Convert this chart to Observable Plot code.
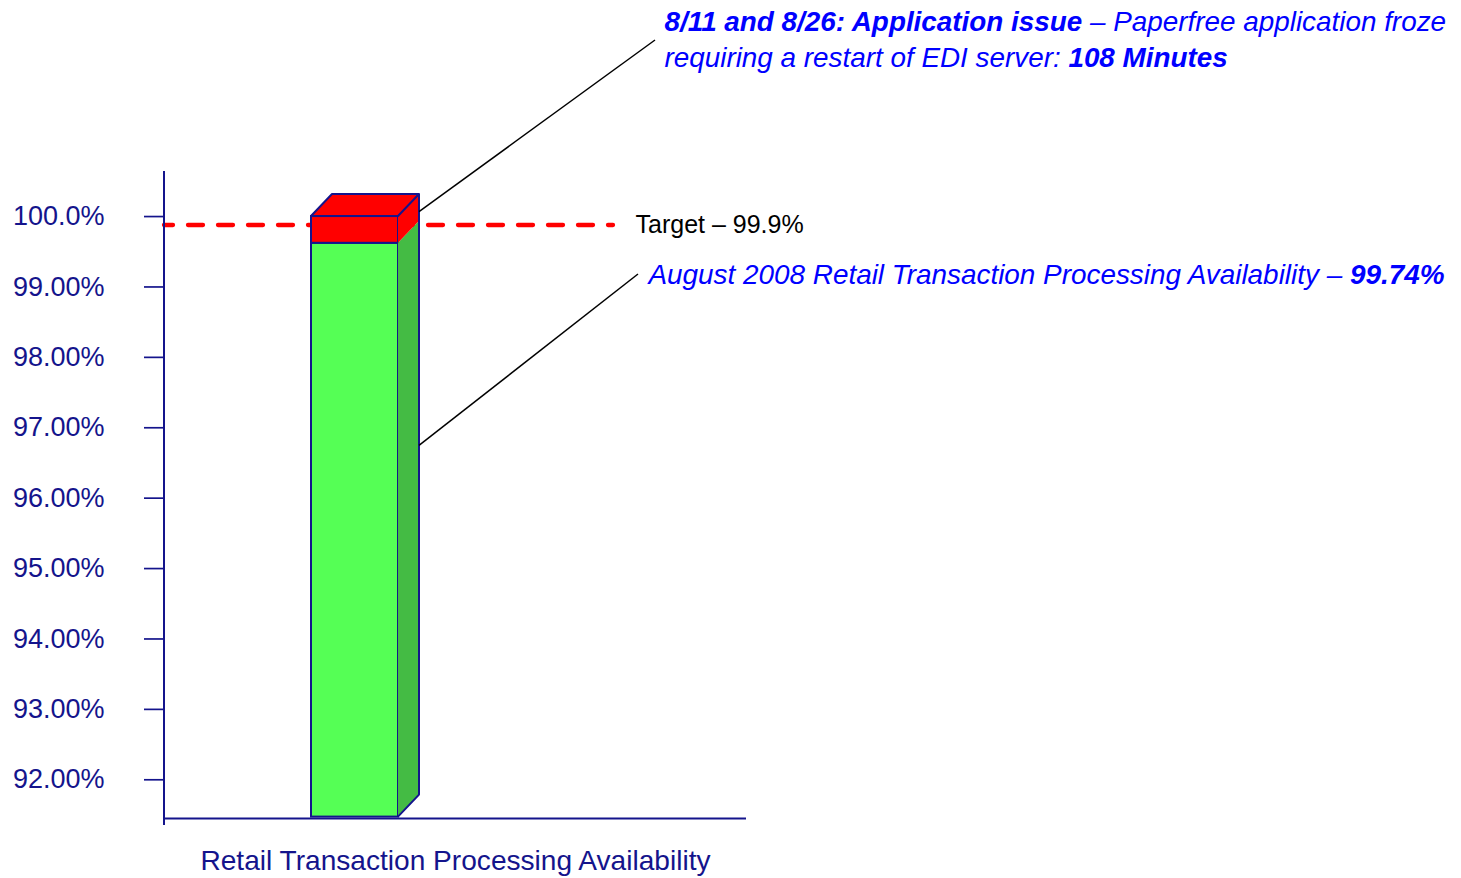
<!DOCTYPE html>
<html>
<head>
<meta charset="utf-8">
<script src="https://cdn.jsdelivr.net/npm/d3@7"></script>
<script src="https://cdn.jsdelivr.net/npm/@observablehq/plot@0.6"></script>
<style>
html, body { margin: 0; padding: 0; background: #fff; }
#chart svg { display: block; }
g[aria-label^="y-axis"] line, g[aria-label^="y-axis"] path { stroke-width: 1.7px; }
</style>
</head>
<body>
<div id="chart"></div>
<script>
// ---------- data ----------
const categories = ["Retail Transaction Processing Availability"];
const barBase = [91.47];          // bottom of the bar as drawn
const availability = [99.62];     // top of the green segment as drawn
const shortfallTop = [100.0];     // top of the red segment
const target = [99.88];           // dashed target line
const yDomain = [91.45, 100.64];
const yTicks = [92, 93, 94, 95, 96, 97, 98, 99, 100];
const yTickLabels = ["92.00%", "93.00%", "94.00%", "95.00%", "96.00%", "97.00%", "98.00%", "99.00%", "100.0%"];
const targetLabel = ["Target – 99.9%"];
const issueLine1 = [{text: "8/11 and 8/26: Application issue", bold: true}, {text: " – Paperfree application froze", bold: false}];
const issueLine2 = [{text: "requiring a restart of EDI server: ", bold: false}, {text: "108 Minutes", bold: true}];
const availLine = [{text: "August 2008 Retail Transaction Processing Availability – ", bold: false}, {text: "99.74%", bold: true}];
const leaderValues = [99.75, 96.43];   // where the two leader lines touch the bar's side

// ---------- styles / layout ----------
const navy = "#14148c";
const blue = "#0000ff";
const colors = {green: "#55ff55", greenSide: "#44bb44", red: "#ff0000"};
const depth = {dx: 21, dy: 22};
const W = 1461, H = 878;
const M = {top: 171, right: 715, bottom: 60, left: 164};
const font = "'Liberation Sans', Arial, Helvetica, sans-serif";
// annotation anchors relative to the frame's top-left corner (pixels)
const ann = {
  line1: {dx: 500, dy: -141},
  line2: {dx: 500, dy: -105},
  avail: {dx: 484, dy: 112},
  leader1End: {dx: 491, dy: -131},
  leader2End: {dx: 474, dy: 103}
};

const joinSegs = segs => segs.map(s => s.text).join("");
const segments = [
  {y1: barBase[0], y2: availability[0], fill: colors.green, cat: categories[0]},
  {y1: availability[0], y2: shortfallTop[0], fill: colors.red, cat: categories[0]}
];

function box3d(index, scales, values, dimensions) {
  const x = scales.x, y = scales.y;
  const bw = x.bandwidth();
  const {marginLeft, marginTop, height, marginBottom} = dimensions;
  const g = d3.create("svg:g");
  const poly = pts => pts.map(p => p.join(",")).join(" ");
  const {dx, dy} = depth;
  categories.forEach((c, i) => {
    const xl = x(c), xr = xl + bw;
    const yT = y(shortfallTop[i]), yG = y(availability[i]), yB = y(barBase[i]);
    g.append("polygon").attr("points", poly([[xr, yG], [xr + dx, yG - dy], [xr + dx, yB - dy], [xr, yB]]))
      .attr("fill", colors.greenSide);
    g.append("polygon").attr("points", poly([[xr, yT], [xr + dx, yT - dy], [xr + dx, yG - dy], [xr, yG]]))
      .attr("fill", colors.red);
    g.append("path").attr("d", `M${xr},${yB}L${xr + dx},${yB - dy}L${xr + dx},${yT - dy}`)
      .attr("fill", "none").attr("stroke", navy).attr("stroke-width", 2).attr("stroke-linejoin", "round");
    g.append("polygon").attr("points", poly([[xl, yT], [xr, yT], [xr + dx, yT - dy], [xl + dx, yT - dy]]))
      .attr("fill", colors.red).attr("stroke", navy).attr("stroke-width", 2).attr("stroke-linejoin", "round");
    // leader lines
    const ends = [ann.leader1End, ann.leader2End];
    leaderValues.forEach((v, j) => {
      g.append("line")
        .attr("x1", xr + dx).attr("y1", y(v) - dy)
        .attr("x2", marginLeft + ends[j].dx).attr("y2", marginTop + ends[j].dy)
        .attr("stroke", "#000").attr("stroke-width", 1.5);
    });
  });
  // y axis line (extends a little below the baseline)
  g.append("line")
    .attr("x1", marginLeft).attr("x2", marginLeft)
    .attr("y1", y(yDomain[1])).attr("y2", height - marginBottom + 7)
    .attr("stroke", navy).attr("stroke-width", 2);
  return g.node();
}

const chart = Plot.plot({
  width: W,
  height: H,
  marginTop: M.top, marginRight: M.right, marginBottom: M.bottom, marginLeft: M.left,
  style: {fontFamily: font, fontSize: "27px", color: navy, background: "#fff"},
  x: {type: "band", domain: categories, paddingInner: 0, paddingOuter: 2.807, align: 0.2976, axis: null},
  y: {
    domain: yDomain,
    ticks: yTicks,
    tickFormat: d => yTickLabels[yTicks.indexOf(d)],
    tickSize: 20,
    tickPadding: 40,
    label: null
  },
  marks: [
    Plot.ruleY([yDomain[0]], {stroke: navy, strokeWidth: 2}),
    Plot.ruleY(target, {stroke: colors.red, strokeWidth: 4.3, strokeDasharray: "15,15", strokeDashoffset: 6,
      strokeLinecap: "round", insetRight: 133}),
    Plot.barY(segments, {x: "cat", y1: "y1", y2: "y2", fill: "fill", stroke: navy, strokeWidth: 2}),
    box3d,
    Plot.text(targetLabel, {y: () => target[0], text: d => d, frameAnchor: "left", dx: 471, textAnchor: "start",
      lineAnchor: "middle", fill: "#000", fontSize: 25}),
    Plot.text([joinSegs(issueLine1)], {text: d => d, frameAnchor: "top-left", dx: ann.line1.dx, dy: ann.line1.dy,
      textAnchor: "start", lineAnchor: "bottom", fill: blue, fontSize: 27.85, fontStyle: "italic"}),
    Plot.text([joinSegs(issueLine2)], {text: d => d, frameAnchor: "top-left", dx: ann.line2.dx, dy: ann.line2.dy,
      textAnchor: "start", lineAnchor: "bottom", fill: blue, fontSize: 27.85, fontStyle: "italic"}),
    Plot.text([joinSegs(availLine)], {text: d => d, frameAnchor: "top-left", dx: ann.avail.dx, dy: ann.avail.dy,
      textAnchor: "start", lineAnchor: "bottom", fill: blue, fontSize: 27.88, fontStyle: "italic"}),
    Plot.text(categories, {text: d => d, frameAnchor: "bottom", dy: 51, lineAnchor: "bottom", fill: navy, fontSize: 28.1})
  ]
});

// rich text: bold parts inside the annotation lines
const rich = new Map([issueLine1, issueLine2, availLine].map(s => [joinSegs(s), s]));
d3.select(chart).selectAll("text").each(function() {
  const segs = rich.get(this.textContent);
  if (!segs) return;
  const el = d3.select(this);
  el.selectAll("*").remove();
  el.text(null);
  segs.forEach(s => el.append("tspan").attr("font-weight", s.bold ? "bold" : null).text(s.text));
});

document.getElementById("chart").appendChild(chart);
</script>
</body>
</html>
